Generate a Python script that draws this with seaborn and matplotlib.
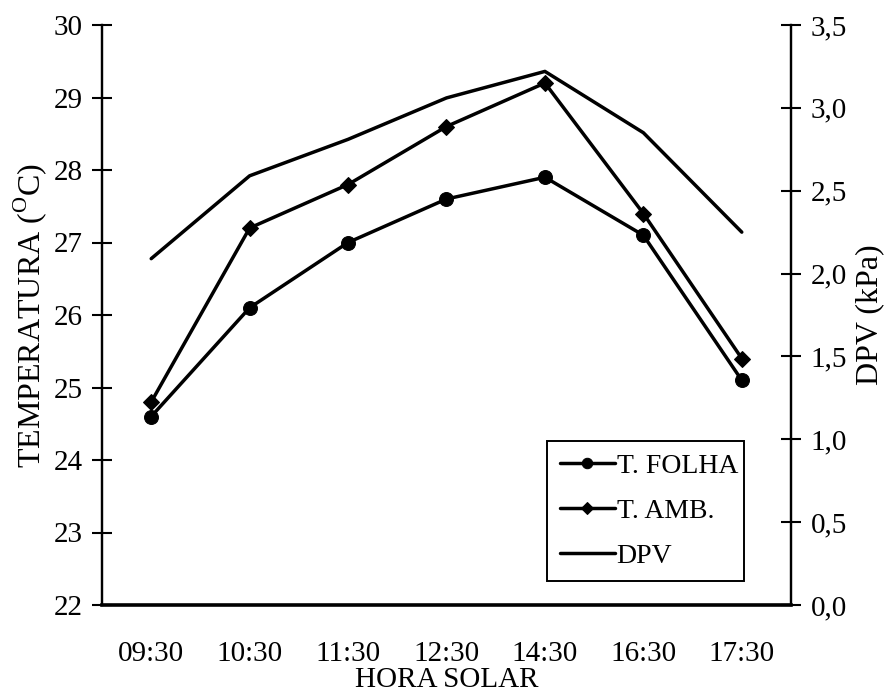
import matplotlib
matplotlib.use("Agg")
import matplotlib.pyplot as plt
import seaborn as sns
import pandas as pd

# ─── DATA ─────────────────────────────────────────────────────────────────────
horas = ['09:30', '10:30', '11:30', '12:30', '14:30', '16:30', '17:30']
t_folha = [24.6, 26.1, 27.0, 27.6, 27.9, 27.1, 25.1]   # °C
t_amb = [24.8, 27.2, 27.8, 28.6, 29.2, 27.4, 25.4]     # °C
dpv = [2.09, 2.59, 2.81, 3.06, 3.22, 2.85, 2.25]        # kPa

temp_ticks = [22, 23, 24, 25, 26, 27, 28, 29, 30]
dpv_ticks = [0.0, 0.5, 1.0, 1.5, 2.0, 2.5, 3.0, 3.5]
dpv_labels = ['0,0', '0,5', '1,0', '1,5', '2,0', '2,5', '3,0', '3,5']

# ─── STYLE ────────────────────────────────────────────────────────────────────
sns.set_style('white', {'text.color': 'black', 'axes.labelcolor': 'black',
                        'xtick.color': 'black', 'ytick.color': 'black',
                        'axes.edgecolor': 'black'})
plt.rcParams['font.family'] = ['Liberation Serif', 'DejaVu Serif']
plt.rcParams['mathtext.fontset'] = 'custom'
plt.rcParams['mathtext.rm'] = 'Liberation Serif'
FS = 21
LW = 2.5

df = pd.DataFrame({'hora': horas, 't_folha': t_folha, 't_amb': t_amb, 'dpv': dpv})

fig = plt.figure(figsize=(8.93, 7.0), dpi=100)
ax = fig.add_axes([102 / 893, 1 - 605 / 700, 689 / 893, 580 / 700])

sns.lineplot(data=df, x='hora', y='t_folha', ax=ax, color='black', lw=LW,
             marker='o', markersize=10, markeredgecolor='black',
             label='T. FOLHA', sort=False)
sns.lineplot(data=df, x='hora', y='t_amb', ax=ax, color='black', lw=LW,
             marker='D', markersize=8.5, markeredgecolor='black',
             label='T. AMB.', sort=False)

ax2 = ax.twinx()
sns.lineplot(data=df, x='hora', y='dpv', ax=ax2, color='black', lw=LW,
             label='DPV', sort=False)

# axes ranges and ticks
ax.set_xlim(-0.5, len(horas) - 0.5)
ax.set_ylim(temp_ticks[0], temp_ticks[-1])
ax2.set_ylim(dpv_ticks[0], dpv_ticks[-1])

ax.set_xticks(range(len(horas)))
ax.set_xticklabels(horas, fontsize=FS)
ax.set_xticks([i - 0.5 for i in range(len(horas) + 1)], minor=True)
ax.tick_params(axis='x', which='major', length=0, pad=26)
ax.tick_params(axis='x', which='minor', direction='inout', length=14, width=1.5,
               color='black')

ax.set_yticks(temp_ticks)
ax.set_yticklabels([str(t) for t in temp_ticks], fontsize=FS)
ax.tick_params(axis='y', direction='inout', length=14, width=1.5, color='black',
               pad=7)

ax2.set_yticks(dpv_ticks)
ax2.set_yticklabels(dpv_labels, fontsize=FS)
ax2.tick_params(axis='y', direction='inout', length=14, width=1.5, color='black',
                pad=7)

ax.set_xlabel('HORA SOLAR', fontsize=FS, labelpad=0)
ax.set_ylabel(r'TEMPERATURA ($^{\mathrm{O}}$C)', fontsize=23, labelpad=3)
ax2.set_ylabel('DPV (kPa)', fontsize=23, labelpad=6)

for a in (ax, ax2):
    a.spines['top'].set_visible(False)
    for s in ('left', 'right', 'bottom'):
        a.spines[s].set_color('black')
        a.spines[s].set_linewidth(1.6)
ax.spines['bottom'].set_linewidth(2.6)
ax2.spines['bottom'].set_visible(False)

# legend from both axes
h1, l1 = ax.get_legend_handles_labels()
h2, l2 = ax2.get_legend_handles_labels()
ax.get_legend().remove()
ax2.get_legend().remove()
leg = ax2.legend(h1 + h2, l1 + l2, loc='lower left',
                 bbox_to_anchor=(0.646, 0.041, 0.286, 0.256), mode='expand',
                 fontsize=20, frameon=True, fancybox=False, framealpha=1,
                 edgecolor='black', borderpad=0.45, labelspacing=0.7,
                 handlelength=2.0, handletextpad=0.05, borderaxespad=0,
                 markerscale=0.75)
leg.get_frame().set_linewidth(1.4)

fig.savefig('out.png', dpi=100)
